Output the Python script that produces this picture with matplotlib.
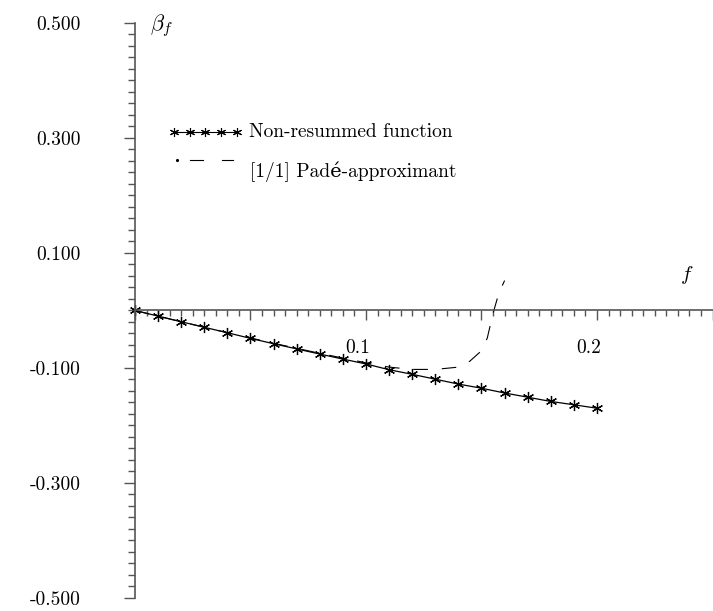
import numpy as np
import matplotlib
matplotlib.use("Agg")
import matplotlib.pyplot as plt
from matplotlib.ticker import MultipleLocator, FixedLocator
from matplotlib.transforms import ScaledTranslation

plt.rcParams['font.family'] = ['cmr10', 'DejaVu Serif']
plt.rcParams['mathtext.fontset'] = 'cm'
plt.rcParams['axes.unicode_minus'] = False
plt.rcParams['lines.scale_dashes'] = False

# non-resummed beta function
f_vals = [0.00, 0.01, 0.02, 0.03, 0.04, 0.05, 0.06, 0.07, 0.08, 0.09, 0.10,
          0.11, 0.12, 0.13, 0.14, 0.15, 0.16, 0.17, 0.18, 0.19, 0.20]
beta_vals = [0.0, -0.0098, -0.0196, -0.0292, -0.0387, -0.0485, -0.0578, -0.0668,
             -0.0758, -0.0845, -0.0930, -0.1030, -0.1110, -0.1195, -0.1280,
             -0.1352, -0.1435, -0.1508, -0.1582, -0.1640, -0.1700]

# [1/1] Pade-approximant
pade_f = [0.0, 0.02, 0.04, 0.06, 0.08, 0.10, 0.11, 0.12, 0.13, 0.14,
          0.145, 0.15, 0.1525, 0.155, 0.1575, 0.16]
pade_beta = [0.0, -0.0196, -0.0386, -0.0570, -0.0745, -0.0910, -0.0985, -0.1025,
             -0.1025, -0.0985, -0.0880, -0.0700, -0.0480, -0.0050, 0.0300, 0.0520]

y_labels = ['0.500', '0.300', '0.100', '-0.100', '-0.300', '-0.500']
y_label_pos = [0.5, 0.3, 0.1, -0.1, -0.3, -0.5]

FS = 14

fig = plt.figure(figsize=(7.13, 6.11), dpi=100)
ax = fig.add_axes([0.1893, 0.0213, 0.81, 0.9411])
ax.set_xlim(0, 0.25)
ax.set_ylim(-0.5, 0.5)

ax.spines['top'].set_visible(False)
ax.spines['right'].set_visible(False)
ax.spines['bottom'].set_position(('data', 0))
for s in ('left', 'bottom'):
    ax.spines[s].set_color('#555555')
    ax.spines[s].set_linewidth(1.2)

# x ticks
ax.xaxis.set_major_locator(FixedLocator([0.0, 0.05, 0.1, 0.15, 0.2, 0.25]))
ax.set_xticklabels(['', '', '0.1', '', '0.2', ''])
ax.xaxis.set_minor_locator(MultipleLocator(0.005))
ax.tick_params(axis='x', which='major', direction='out', length=7.5, width=1.0,
               color='#555555', pad=13, labelsize=FS)
ax.tick_params(axis='x', which='minor', direction='out', length=4, width=1.0,
               color='#555555')
shift = ScaledTranslation(-0.08, 0, fig.dpi_scale_trans)
for lab in ax.get_xticklabels():
    lab.set_transform(lab.get_transform() + shift)

# y ticks
ax.yaxis.set_major_locator(FixedLocator(y_label_pos))
ax.set_yticklabels(y_labels)
ax.yaxis.set_minor_locator(MultipleLocator(0.02))
ax.tick_params(axis='y', which='major', direction='out', length=8, width=1.0,
               color='#555555', pad=31, labelsize=FS)
ax.tick_params(axis='y', which='minor', direction='out', length=5, width=1.0,
               color='#555555')

# curves
ax.plot(pade_f, pade_beta, color='black', linewidth=0.8, dashes=(10.5, 10),
        clip_on=False)
ax.plot(f_vals, beta_vals, color='black', linewidth=0.9, marker=(6, 2, 0),
        markersize=8, markeredgewidth=0.9, clip_on=False)

# axis labels
ax.text(0.0065, 0.495, r'$\beta_f$', fontsize=16, ha='left', va='center')
ax.text(0.236, 0.062, r'$f$', fontsize=15, ha='left', va='center')

# legend drawn by hand
ax.plot(np.linspace(0.0170, 0.0440, 5), [0.3104] * 5, color='black',
        linewidth=0.8, marker=(6, 2, 0), markersize=6.5, markeredgewidth=0.8)
ax.text(0.0494, 0.3104, 'Non-resummed function', fontsize=FS,
        ha='left', va='center')
ax.plot([0.0182], [0.2617], color='black', marker='.', markersize=2.5)
ax.plot([0.0238, 0.0294], [0.2617, 0.2617], color='black', linewidth=0.8)
ax.plot([0.0377, 0.0424], [0.2617, 0.2617], color='black', linewidth=0.8)
ax.text(0.0498, 0.2409, '[1/1] Padé-approximant', fontsize=FS,
        ha='left', va='center')

fig.savefig('out.png', dpi=100)
